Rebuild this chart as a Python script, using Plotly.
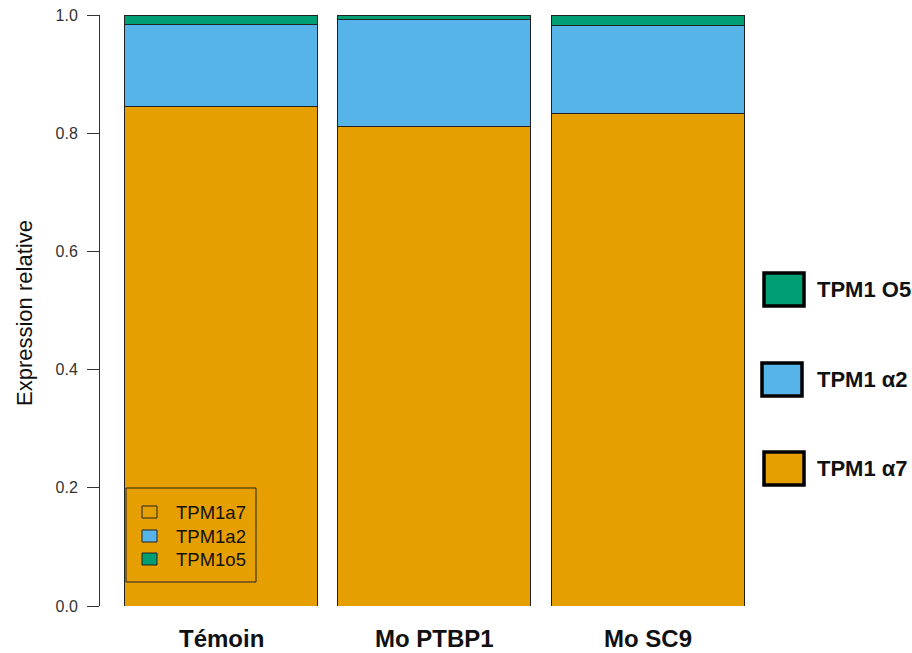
import plotly.graph_objects as go

# Relative expression of the TPM1 isoforms in each condition
conditions = ["Témoin", "Mo PTBP1", "Mo SC9"]
tpm1_a7 = [0.846, 0.812, 0.834]
tpm1_a2 = [0.138, 0.181, 0.148]
tpm1_o5 = [0.016, 0.007, 0.018]

inner_legend_labels = ["TPM1a7", "TPM1a2", "TPM1o5"]
side_legend_labels = ["TPM1 O5", "TPM1 α2", "TPM1 α7"]
y_ticks = [0.0, 0.2, 0.4, 0.6, 0.8, 1.0]

ORANGE = "#E69F00"
BLUE = "#56B4E9"
GREEN = "#009E73"
FONT = "Liberation Sans, Arial, sans-serif"

W, H = 912, 653
L, R, T, B = 100, 152, 15, 47
plot_w = W - L - R
plot_h = H - T - B


def px(x):
    return (x - L) / plot_w


def py(y):
    return (H - B - y) / plot_h


xs = list(range(len(conditions)))
fig = go.Figure()
for vals, col in [(tpm1_a7, ORANGE), (tpm1_a2, BLUE), (tpm1_o5, GREEN)]:
    fig.add_trace(go.Bar(
        x=xs, y=vals, width=0.906,
        marker=dict(color=col, line=dict(color="#222222", width=1)),
        showlegend=False, hoverinfo="skip",
    ))

shapes = []
annotations = []

# category labels under the bars
for i, c in enumerate(conditions):
    annotations.append(dict(
        x=i, xref="x", y=py(638), yref="paper", text=f"<b>{c}</b>",
        showarrow=False, xanchor="center", yanchor="middle",
        font=dict(family=FONT, size=24, color="#111111"),
    ))

# y axis title
annotations.append(dict(
    x=px(24), xref="paper", y=py(313), yref="paper", text="Expression relative",
    textangle=-90, showarrow=False, xanchor="center", yanchor="middle",
    font=dict(family=FONT, size=22, color="#111111"),
))

# inner legend box
shapes.append(dict(type="rect", xref="paper", yref="paper",
                   x0=px(126), x1=px(256), y0=py(582), y1=py(488),
                   line=dict(color="#222222", width=1), fillcolor="rgba(0,0,0,0)"))
inner_fills = ["rgba(0,0,0,0)", BLUE, GREEN]
for lab, fill, yc in zip(inner_legend_labels, inner_fills, [512, 536, 559]):
    shapes.append(dict(type="rect", xref="paper", yref="paper",
                       x0=px(142), x1=px(157), y0=py(yc + 6), y1=py(yc - 6),
                       line=dict(color="#222222", width=1), fillcolor=fill))
    annotations.append(dict(
        x=px(174), xref="paper", y=py(yc), yref="paper", text=lab,
        showarrow=False, xanchor="left", yanchor="middle",
        font=dict(family=FONT, size=18.5, color="#111111"),
    ))

# side legend
side_fills = [GREEN, BLUE, ORANGE]
side_boxes = [(764, 804, 273, 306), (762, 802, 363, 396), (764, 804, 452, 485)]
for lab, fill, (x0, x1, y0, y1) in zip(side_legend_labels, side_fills, side_boxes):
    shapes.append(dict(type="rect", xref="paper", yref="paper",
                       x0=px(x0), x1=px(x1), y0=py(y1), y1=py(y0),
                       line=dict(color="#000000", width=3.5), fillcolor=fill))
    annotations.append(dict(
        x=px(815), xref="paper", y=py((y0 + y1) / 2), yref="paper", text=f"<b>{lab}</b>",
        showarrow=False, xanchor="left", yanchor="middle",
        font=dict(family=FONT, size=22, color="#111111"),
    ))

fig.update_layout(
    width=W, height=H,
    margin=dict(l=L, r=R, t=T, b=B, pad=0, autoexpand=False),
    barmode="stack",
    plot_bgcolor="white", paper_bgcolor="white",
    shapes=shapes, annotations=annotations,
    xaxis=dict(range=[-0.570, 2.528], visible=False, showgrid=False,
               zeroline=False, automargin=False),
    yaxis=dict(
        range=[0, 1], tickvals=y_ticks, ticktext=[f"{v:.1f}" for v in y_ticks],
        ticks="outside", ticklen=12, tickcolor="#333333", tickwidth=1,
        showline=True, linecolor="#333333", linewidth=1, automargin=False,
        showgrid=False, zeroline=False, ticklabelstandoff=6,
        tickfont=dict(family=FONT, size=16, color="#333333"),
    ),
)

fig.write_html("out.html")
